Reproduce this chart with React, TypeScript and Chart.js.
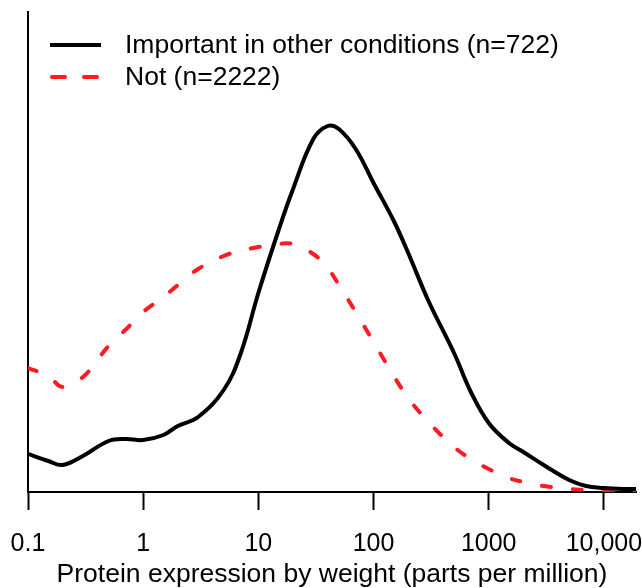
import React, { useEffect, useRef } from "react";
import { Chart, registerables } from "chart.js";

Chart.register(...registerables);

const ppm = [
  0.1, 0.15, 0.2, 0.3, 0.5, 0.7, 1, 1.5, 2, 3, 5, 7, 10, 15, 20, 30, 40, 50, 70,
  100, 150, 200, 300, 500, 700, 1000, 1500, 2000, 3000, 5000, 7000, 10000, 15000, 19000,
];

const important = [
  38, 31, 27, 36, 51, 53, 52, 57, 66, 75, 102, 138, 199, 262, 303, 353, 366, 363, 343,
  309, 271, 239, 191, 139, 100, 69, 49, 40, 27, 12, 6, 4, 3, 3,
];

const notImportant = [
  124, 116, 105, 115, 146, 162, 180, 195, 207, 223, 236, 241, 245, 248, 248, 238, 224, 207, 180,
  150, 116, 94, 70, 45, 33, 23, 14, 10, 6, 3, 2, 1, 1, 1,
];

const tickValues = [0.1, 1, 10, 100, 1000, 10000];
const tickLabels = ["0.1", "1", "10", "100", "1000", "10,000"];

const seriesLabels = ["Important in other conditions (n=722)", "Not (n=2222)"];
const xTitle = "Protein expression by weight (parts per million)";

const FONT = "'Liberation Sans', Arial, Helvetica, sans-serif";

const legendPlugin = {
  id: "customLegend",
  afterDraw(chart: any) {
    const ctx = chart.ctx;
    const area = chart.chartArea;
    const x0 = area.left + 22;
    const rows = [area.top + 33, area.top + 65];
    ctx.save();
    chart.data.datasets.forEach((ds: any, i: number) => {
      const y = rows[i];
      ctx.beginPath();
      ctx.strokeStyle = ds.borderColor;
      ctx.lineWidth = ds.borderWidth;
      if (ds.borderDash && ds.borderDash.length) {
        ctx.setLineDash([13, 19]);
        ctx.lineCap = "round";
        ctx.moveTo(x0 + 2, y);
        ctx.lineTo(x0 + 49, y);
      } else {
        ctx.setLineDash([]);
        ctx.lineCap = "butt";
        ctx.moveTo(x0, y);
        ctx.lineTo(x0 + 51, y);
      }
      ctx.stroke();
      ctx.setLineDash([]);
      ctx.fillStyle = "#000";
      ctx.font = "26.5px " + FONT;
      ctx.textBaseline = "middle";
      ctx.textAlign = "left";
      ctx.fillText(ds.label, x0 + 75, y + 1);
    });
    ctx.restore();
  },
};

export default function App() {
  const canvasRef = useRef<HTMLCanvasElement | null>(null);

  useEffect(() => {
    const canvas = canvasRef.current;
    if (!canvas) return;
    const chart = new Chart(canvas, {
      type: "line",
      data: {
        datasets: [
          {
            label: seriesLabels[0],
            data: ppm.map((x, i) => ({ x, y: important[i] })),
            borderColor: "#000000",
            borderWidth: 4,
            borderJoinStyle: "round",
            pointRadius: 0,
            tension: 0.4,
            fill: false,
          },
          {
            label: seriesLabels[1],
            data: ppm.map((x, i) => ({ x, y: notImportant[i] })),
            borderColor: "#ff1a24",
            borderWidth: 4,
            borderDash: [9, 22],
            borderCapStyle: "round",
            pointRadius: 0,
            tension: 0.4,
            fill: false,
          },
        ],
      },
      options: {
        responsive: false,
        animation: false,
        layout: { padding: { left: 28, top: 12, right: 6, bottom: 0 } },
        plugins: {
          legend: { display: false },
          tooltip: { enabled: false },
        },
        scales: {
          x: {
            type: "logarithmic",
            min: 0.1,
            max: 19000,
            afterBuildTicks: (scale: any) => {
              scale.ticks = tickValues.map((v) => ({ value: v }));
            },
            afterFit: (scale: any) => {
              scale.paddingLeft = 0;
              scale.paddingRight = 0;
              scale.height = 96;
            },
            ticks: {
              autoSkip: false,
              maxRotation: 0,
              color: "#000",
              padding: 19,
              font: { family: FONT, size: 25 },
              callback: (value: any) => {
                const idx = tickValues.indexOf(Number(value));
                return idx >= 0 ? tickLabels[idx] : "";
              },
            },
            grid: {
              display: true,
              drawOnChartArea: false,
              drawTicks: true,
              tickLength: 18,
              tickWidth: 2,
              tickColor: "#000",
            },
            border: { display: true, color: "#000", width: 2 },
            title: {
              display: true,
              text: xTitle,
              color: "#000",
              font: { family: FONT, size: 26.5, lineHeight: 1.0 },
              padding: { top: 0, bottom: 0 },
            },
          },
          y: {
            min: 0,
            max: 480,
            afterFit: (scale: any) => {
              scale.width = 0;
            },
            ticks: { display: false },
            grid: { display: false },
            border: { display: true, color: "#000", width: 2 },
          },
        },
      },
      plugins: [legendPlugin],
    });
    return () => chart.destroy();
  }, []);

  return (
    <div style={{ position: "absolute", left: 0, top: 0, width: 642, height: 588, background: "#fff" }}>
      <canvas ref={canvasRef} width={642} height={588} style={{ display: "block" }} />
    </div>
  );
}
